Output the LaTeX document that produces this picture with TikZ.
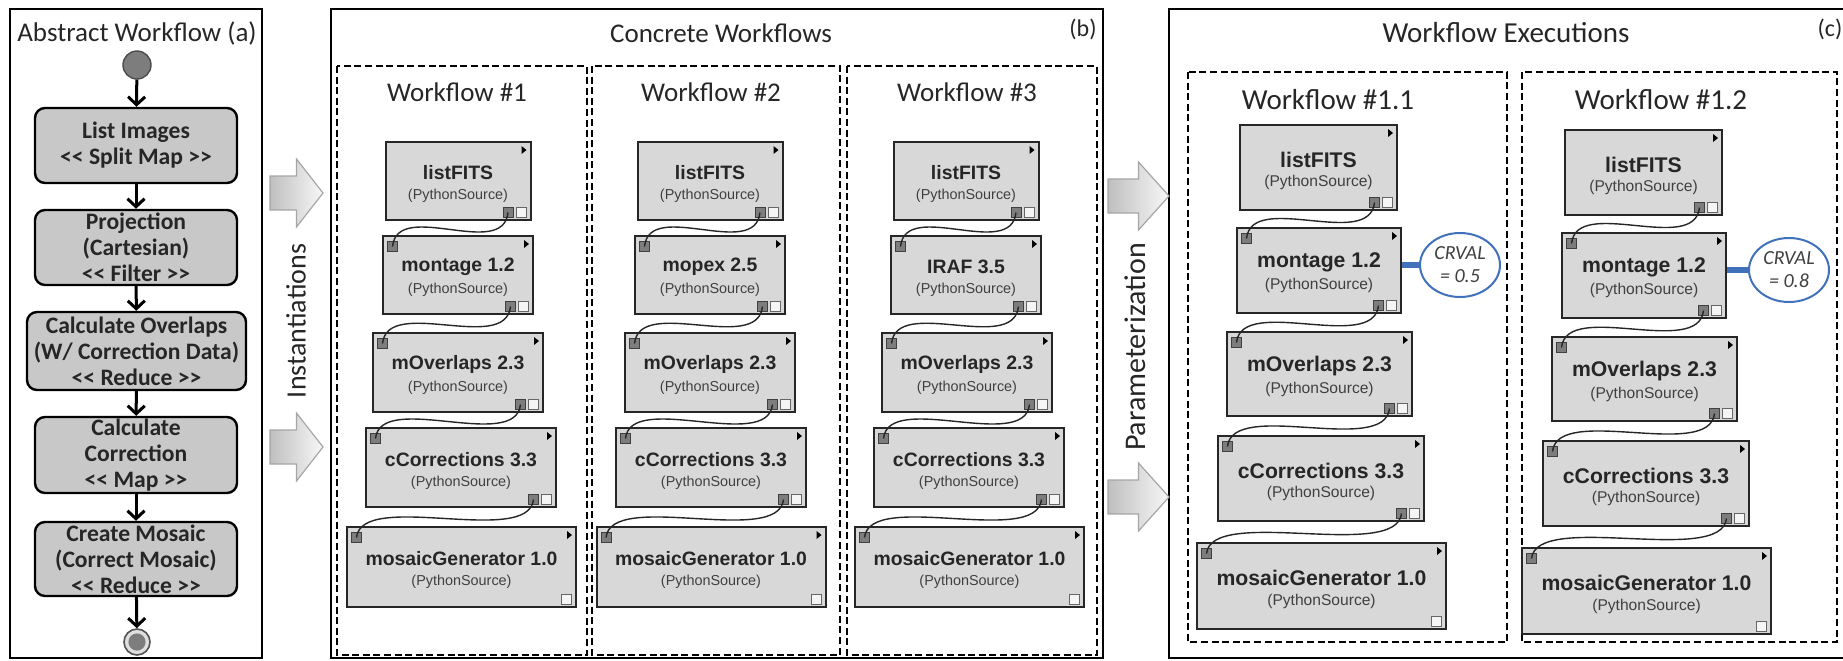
\documentclass[tikz,border=0pt]{standalone}
\usepackage{fontspec}
\setmainfont{Carlito}
\newfontfamily\arialfont{Liberation Sans}
\usepackage{tikz}
\usetikzlibrary{shapes, arrows.meta, positioning, calc}

\definecolor{boxgray}{RGB}{200,200,200}
\definecolor{modgray}{RGB}{216,216,216}
\definecolor{portgray}{RGB}{125,125,125}
\definecolor{crvalblue}{RGB}{65,113,186}
\definecolor{textgray}{RGB}{64,64,64}

\tikzset{
  panel/.style={draw=black, line width=1.3pt},
  wfbox/.style={draw=black, line width=1pt, dash pattern=on 3.5pt off 1.8pt},
  title/.style={font=\fontsize{13.5}{16}\selectfont, text=black!85},
  tag/.style={font=\fontsize{12}{14}\selectfont, text=black!85},
  subttl/.style={font=\fontsize{13.5}{16}\selectfont, text=black!85},
  sidelabel/.style={font=\fontsize{14}{16}\selectfont, text=black!85, rotate=90},
  absbox/.style={draw=black, fill=boxgray, line width=1.2pt, rounded corners=5pt,
    align=center, inner sep=0pt, text=black!85,
    font=\bfseries\fontsize{11.8}{13}\selectfont},
  flow/.style={-{Straight Barb[length=4pt,width=8.5pt]}, line width=1.5pt},
  startdot/.style={circle, fill=portgray, draw=gray!60!black, line width=0.7pt,
    minimum size=14pt, inner sep=0pt},
  enddot/.style={circle, fill=gray!25, draw=gray!65!black, line width=0.8pt,
    minimum size=13pt, inner sep=0pt},
  modbox/.style={draw=black!85, fill=modgray, line width=1pt, inner sep=0pt},
  modname/.style={font=\arialfont\bfseries\fontsize{9.7}{11}\selectfont, text=black!85},
  modsub/.style={font=\arialfont\fontsize{7.2}{8}\selectfont, text=textgray},
  darkport/.style={draw=black!75, fill=portgray, line width=0.5pt,
    minimum size=5pt, inner sep=0pt},
  freeport/.style={draw=black!60, fill=gray!8, line width=0.5pt,
    minimum size=5pt, inner sep=0pt},
  wire/.style={draw=black!85, line width=0.7pt},
  crval/.style={ellipse, draw=crvalblue, fill=white, line width=1pt,
    minimum width=40pt, minimum height=32pt, inner sep=0pt, align=center,
    text=textgray, font=\itshape\fontsize{10}{11.5}\selectfont},
  paramlink/.style={fill=crvalblue}
}

% module box of a concrete workflow: name, centre x, top y, width, height, label
\newcommand{\module}[6]{%
  \node[modbox, minimum width=#4*0.5pt, minimum height=#5*0.5pt] (#1) at (#2,{#3+#5/2}) {};
  \node[modname] (#1-name) at ([yshift=4pt]#1.center) {#6};
  \node[modsub] (#1-sub) at ([yshift=-7.5pt]#1.center) {(PythonSource)};
  \fill ([xshift=-5pt,yshift=-2.5pt]#1.north east) -- ++(2.5pt,-2pt) -- ++(-2.5pt,-2pt) -- cycle;
  \node[freeport, anchor=south east] (#1-free) at ([xshift=-2.5pt,yshift=1.5pt]#1.south east) {};
}
\newcommand{\outport}[1]{%
  \node[darkport, anchor=south east] (#1-out) at ([xshift=-9pt,yshift=1.5pt]#1.south east) {};}
\newcommand{\inport}[1]{%
  \node[darkport, anchor=north west] (#1-in) at ([xshift=2.5pt,yshift=-3pt]#1.north west) {};}
\newcommand{\wire}[2]{%
  \draw[wire] (#1-out.center) .. controls +(-5,48) and +(5,-48) .. (#2-in.center);}
% big grey arrow: start x, tip x, tip y
\newcommand{\bigarrow}[3]{%
  \shade[left color=gray!50, right color=gray!6, draw=gray!70, line width=0.6pt]
    (#1,#3-17) -- ({(#1+#2)/2},#3-17) -- ({(#1+#2)/2},#3-34) -- (#2,#3)
    -- ({(#1+#2)/2},#3+34) -- ({(#1+#2)/2},#3+17) -- (#1,#3+17) -- cycle;}

\begin{document}
\begin{tikzpicture}[x=0.5pt, y=-0.5pt]
  \useasboundingbox (0,0) rectangle (1843,660);

  % Panels
  \draw[panel] (10,9) rectangle (262,658);
  \draw[panel] (331,9) rectangle (1103,658);
  \draw[panel] (1169,9) rectangle (1850,658);

  \node[title] (ttla) at (137,33) {Abstract Workflow (a)};
  \node[title] (ttlb) at (721,33) {Concrete Workflows};
  \node[tag] (tagb) at (1083,29) {(b)};
  \node[title, font=\fontsize{14.5}{17}\selectfont] (ttlc) at (1506,33) {Workflow Executions};
  \node[tag] (tagc) at (1830,29) {(c)};

  % Abstract workflow
  \node[startdot] (start) at (137,65) {};
  \node[absbox, minimum width=101pt, minimum height=37.5pt] (listimg) at (136,145.5)
    {List Images\\{<}{<} Split Map {>}{>}};
  \node[absbox, minimum width=101pt, minimum height=37.5pt] (proj) at (136,247.5)
    {Projection\\(Cartesian)\\{<}{<} Filter {>}{>}};
  \node[absbox, minimum width=109.5pt, minimum height=39pt] (overlap) at (136.5,351)
    {Calculate Overlaps\\(W/ Correction Data)\\{<}{<} Reduce {>}{>}};
  \node[absbox, minimum width=101pt, minimum height=38pt] (correct) at (136,455)
    {Calculate\\Correction\\{<}{<} Map {>}{>}};
  \node[absbox, minimum width=101pt, minimum height=37pt] (mosaic) at (136,559)
    {Create Mosaic\\(Correct Mosaic)\\{<}{<} Reduce {>}{>}};
  \node[enddot] (finish) at (137,642) {};
  \fill[portgray] (finish.center) circle (4.3pt);

  \draw[flow] (start) -- (listimg);
  \draw[flow] (listimg) -- (proj);
  \draw[flow] (proj) -- (overlap);
  \draw[flow] (overlap) -- (correct);
  \draw[flow] (correct) -- (mosaic);
  \draw[flow] (mosaic) -- (finish);

  % Instantiations
  \bigarrow{270}{323}{193}
  \bigarrow{270}{323}{447}
  \node[sidelabel] (inst) at (296,321) {Instantiations};

  % Concrete workflows
  \draw[wfbox] (337,66) rectangle (587,655);
  \draw[wfbox] (592,66) rectangle (840,655);
  \draw[wfbox] (847,66) rectangle (1097,655);
  \node[subttl] (wt1) at (457,92) {Workflow \#1};
  \node[subttl] (wt2) at (711,92) {Workflow \#2};
  \node[subttl] (wt3) at (967,92) {Workflow \#3};

  \module{w1s1}{458}{142}{145}{78}{listFITS}\outport{w1s1}
  \module{w1s2}{458}{236}{150}{78}{montage 1.2}\inport{w1s2}\outport{w1s2}
  \module{w1s3}{458}{333}{170}{79}{mOverlaps 2.3}\inport{w1s3}\outport{w1s3}
  \module{w1s4}{461}{428}{190}{79}{cCorrections 3.3}\inport{w1s4}\outport{w1s4}
  \module{w1s5}{461.5}{527}{229}{80}{mosaicGenerator 1.0}\inport{w1s5}
  \wire{w1s1}{w1s2}\wire{w1s2}{w1s3}\wire{w1s3}{w1s4}\wire{w1s4}{w1s5}

  \module{w2s1}{710}{142}{145}{78}{listFITS}\outport{w2s1}
  \module{w2s2}{710}{236}{150}{78}{mopex 2.5}\inport{w2s2}\outport{w2s2}
  \module{w2s3}{710}{333}{170}{79}{mOverlaps 2.3}\inport{w2s3}\outport{w2s3}
  \module{w2s4}{711}{428}{190}{79}{cCorrections 3.3}\inport{w2s4}\outport{w2s4}
  \module{w2s5}{711}{527}{229}{80}{mosaicGenerator 1.0}\inport{w2s5}
  \wire{w2s1}{w2s2}\wire{w2s2}{w2s3}\wire{w2s3}{w2s4}\wire{w2s4}{w2s5}

  \module{w3s1}{966}{142}{145}{78}{listFITS}\outport{w3s1}
  \module{w3s2}{966}{236}{150}{78}{IRAF 3.5}\inport{w3s2}\outport{w3s2}
  \module{w3s3}{967}{333}{170}{79}{mOverlaps 2.3}\inport{w3s3}\outport{w3s3}
  \module{w3s4}{969}{428}{190}{79}{cCorrections 3.3}\inport{w3s4}\outport{w3s4}
  \module{w3s5}{969.5}{527}{229}{80}{mosaicGenerator 1.0}\inport{w3s5}
  \wire{w3s1}{w3s2}\wire{w3s2}{w3s3}\wire{w3s3}{w3s4}\wire{w3s4}{w3s5}

  % Parameterization
  \bigarrow{1108}{1169}{196}
  \bigarrow{1108}{1169}{497}
  \node[sidelabel, font=\fontsize{15}{17}\selectfont] (param) at (1135,347) {Parameterization};

  % Workflow executions
  \draw[wfbox] (1188,72) rectangle (1507,642);
  \draw[wfbox] (1522,72) rectangle (1837,642);
  \node[subttl, font=\fontsize{14.5}{17}\selectfont] (xt1) at (1328,100) {Workflow \#1.1};
  \node[subttl, font=\fontsize{14.5}{17}\selectfont] (xt2) at (1661,100) {Workflow \#1.2};

  \begin{scope}[modname/.style={font=\arialfont\bfseries\fontsize{10.6}{12}\selectfont, text=black!85},
                modsub/.style={font=\arialfont\fontsize{7.8}{9}\selectfont, text=textgray}]
    \module{x1s1}{1318.5}{125}{157}{85}{listFITS}\outport{x1s1}
    \module{x1s2}{1319}{228}{164}{85}{montage 1.2}\inport{x1s2}\outport{x1s2}
    \module{x1s3}{1319.5}{332}{185}{84}{mOverlaps 2.3}\inport{x1s3}\outport{x1s3}
    \module{x1s4}{1321}{436}{206}{85}{cCorrections 3.3}\inport{x1s4}\outport{x1s4}
    \module{x1s5}{1321.5}{543}{249}{86}{mosaicGenerator 1.0}\inport{x1s5}
    \wire{x1s1}{x1s2}\wire{x1s2}{x1s3}\wire{x1s3}{x1s4}\wire{x1s4}{x1s5}

    \module{x2s1}{1643.5}{130}{157}{85}{listFITS}\outport{x2s1}
    \module{x2s2}{1644}{233}{164}{85}{montage 1.2}\inport{x2s2}\outport{x2s2}
    \module{x2s3}{1644.5}{337}{185}{84}{mOverlaps 2.3}\inport{x2s3}\outport{x2s3}
    \module{x2s4}{1646}{441}{206}{85}{cCorrections 3.3}\inport{x2s4}\outport{x2s4}
    \module{x2s5}{1646.5}{548}{249}{86}{mosaicGenerator 1.0}\inport{x2s5}
    \wire{x2s1}{x2s2}\wire{x2s2}{x2s3}\wire{x2s3}{x2s4}\wire{x2s4}{x2s5}
  \end{scope}

  % CRVAL parameters
  \node[crval] (crv1) at (1460,265) {CRVAL\\= 0.5};
  \node[crval] (crv2) at (1789,270) {CRVAL\\= 0.8};
  \fill[paramlink] ([yshift=1.3pt]crv1.west) rectangle ([yshift=-1.3pt]crv1.west -| x1s2.east);
  \fill[paramlink] ([yshift=1.3pt]crv2.west) rectangle ([yshift=-1.3pt]crv2.west -| x2s2.east);
\end{tikzpicture}
\end{document}
